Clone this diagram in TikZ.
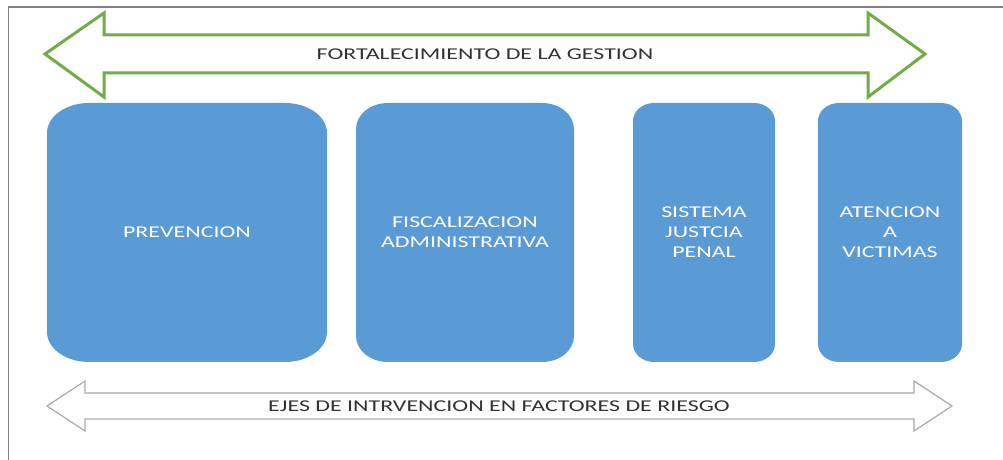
\documentclass[tikz,border=0pt]{standalone}
\usepackage{fontspec}
\newfontfamily\diagfont[FakeStretch=1.45]{Carlito}
\definecolor{boxblue}{RGB}{91,155,213}
\definecolor{arrowgreen}{RGB}{112,173,71}
\definecolor{arrowgray}{RGB}{170,170,170}
\definecolor{textgray}{RGB}{50,50,50}
\definecolor{framegray}{RGB}{128,128,128}

\tikzset{
	labeltext/.style = {font = \diagfont\fontsize{16.5}{20}\selectfont, text = textgray, inner sep = 0},
	blockbox/.style 2 args = {rectangle, inner sep = 0, outer sep = 0,
		minimum height = 259, align = center, text = white,
		font = \diagfont\fontsize{16.5}{20}\selectfont,
		path picture = {
			\fill [boxblue]
				([xshift = #1] path picture bounding box.south west)
				-- ([xshift = -#1] path picture bounding box.south east)
				arc [start angle = -90, end angle = 0, x radius = #1, y radius = #2]
				-- ([yshift = -#2] path picture bounding box.north east)
				arc [start angle = 0, end angle = 90, x radius = #1, y radius = #2]
				-- ([xshift = #1] path picture bounding box.north west)
				arc [start angle = 90, end angle = 180, x radius = #1, y radius = #2]
				-- ([yshift = #2] path picture bounding box.south west)
				arc [start angle = 180, end angle = 270, x radius = #1, y radius = #2]
				-- cycle;
		}}
}

\begin{document}
\begin{tikzpicture}[x = 1pt, y = 1pt]
	
	\useasboundingbox (0, 0) rectangle (1003, 460);
	
	% Frame
	
	\draw [framegray, line width = 1.5] (8.5, 0) -- (8.5, 453) -- (1003, 453);
	
	% Top arrow
	
	\draw [arrowgreen, line width = 3, line join = miter]
		(45, 406) -- (104, 447) -- (104, 425) -- (868, 425) -- (868, 447)
		-- (925, 406) -- (868, 363) -- (868, 387) -- (104, 387) -- (104, 363) -- cycle;
	\node [labeltext] (gestion) at (485, 406) {FORTALECIMIENTO DE LA GESTION};
	
	% Four axes
	
	\node [blockbox = {42pt}{30pt}, minimum width = 280] (prevencion) at (187, 227.5) {PREVENCION};
	\node [blockbox = {32pt}{26pt}, minimum width = 218] (fiscalizacion) at (465, 227.5) {FISCALIZACION\\ADMINISTRATIVA};
	\node [blockbox = {21pt}{18pt}, minimum width = 142] (justicia) at (704, 227.5) {SISTEMA\\JUSTCIA\\PENAL};
	\node [blockbox = {21pt}{18pt}, minimum width = 144] (victimas) at (890, 227.5) {ATENCION\\A\\VICTIMAS};
	
	% Bottom arrow
	
	\draw [arrowgray, fill = white, line width = 1.2, line join = miter]
		(47, 54) -- (85, 79) -- (85, 67) -- (914, 67) -- (914, 79)
		-- (952, 54) -- (914, 29) -- (914, 41) -- (85, 41) -- (85, 29) -- cycle;
	\node [labeltext] (riesgo) at (499, 54) {EJES DE INTRVENCION EN FACTORES DE RIESGO};

\end{tikzpicture}
\end{document}
